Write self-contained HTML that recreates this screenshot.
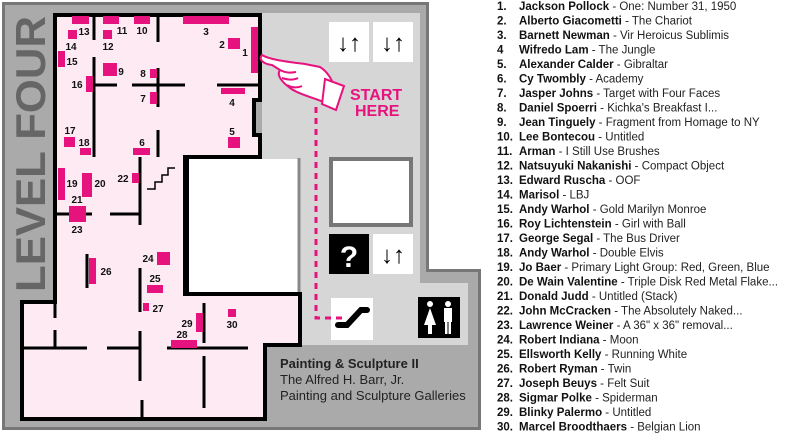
<!DOCTYPE html>
<html><head><meta charset="utf-8"><style>
html,body{margin:0;padding:0;background:#fff;width:800px;height:439px;overflow:hidden}
svg{display:block}
.n{font:bold 10px "Liberation Sans",sans-serif;fill:#111}
.lg{font:11.5px "Liberation Sans",sans-serif;fill:#222}
.lg tspan.b{font-weight:bold;fill:#111}
</style></head><body>
<svg width="800" height="439" viewBox="0 0 800 439" xmlns="http://www.w3.org/2000/svg">
<path d="M2,2 H429 V269 H481 V430 H2 Z" fill="#777"/>
<path d="M5,5 H426 V272 H478 V427 H5 Z" fill="#aaa"/>
<path d="M262,13 H420 V283 H468 V345 H262 Z" fill="#d6d6d6"/>
<text transform="translate(45,292) rotate(-90)" textLength="276" lengthAdjust="spacingAndGlyphs" style="font:bold 42px 'Liberation Sans',sans-serif;fill:#666">LEVEL FOUR</text>
<path d="M55,15 H260 V100 H254 V135 H260 V157 H185 V294 H300 V345 H265 V419 H22 V302 H55 Z" fill="#fdeaf2"/>
<rect x="187" y="159" width="112" height="134" fill="#fff"/>
<g fill="none" stroke="#000" stroke-width="4">
<path d="M55,15 H260 V100 H254 V135 H260 V157 H185 V294 H300 V345 H265 V419 H22 V302 H55 Z" fill="none"/>
<path d="M187,157 V294"/>
</g>
<path d="M299,158 V292" stroke="#888" stroke-width="3"/>
<g stroke="#000" stroke-width="3" fill="none">
<path d="M94,15 V40"/><path d="M158,15 V42"/>
<path d="M95,85 H117"/><path d="M132,85 H185"/><path d="M217,85 H260"/>
<path d="M94,57 V157"/>
<path d="M158,68 V107"/><path d="M158,130 V157"/>
<path d="M140,157 V225"/>
<path d="M57,214 H92"/><path d="M110,214 H140"/>
<path d="M140,268 V312"/>
<path d="M55,302 V318"/><path d="M55,330 V348"/>
<path d="M22,348 H87"/><path d="M107,348 H140"/>
<path d="M140,331 V381"/>
<path d="M167,348 H248"/>
<path d="M204,303 V343"/><path d="M204,356 V408"/>
<path d="M142,400 V419"/>
<path d="M87,254 V288"/>
</g>
<rect x="66" y="154" width="13" height="5" fill="#fdeaf2"/>
<path d="M147,189 H155 V182 H162 V175 H168 V168 H175" stroke="#000" stroke-width="1.5" fill="none"/>
<g fill="#e6137f">
<rect x="72" y="16" width="17" height="8"/><rect x="103" y="16" width="16" height="8"/>
<rect x="134" y="16" width="16" height="8"/><rect x="183" y="16" width="46" height="8"/>
<rect x="251" y="27" width="7" height="46"/><rect x="228" y="38" width="12" height="11"/>
<rect x="103" y="30" width="9" height="9"/><rect x="68" y="30" width="9" height="9"/>
<rect x="58" y="51" width="7" height="16"/><rect x="103" y="63" width="14" height="13"/>
<rect x="150" y="69" width="7" height="9"/><rect x="150" y="92" width="7" height="12"/>
<rect x="86" y="76" width="7" height="16"/><rect x="221" y="88" width="24" height="6"/>
<rect x="228" y="137" width="12" height="11"/><rect x="64" y="137" width="11" height="10"/>
<rect x="80" y="148" width="11" height="7"/><rect x="133" y="148" width="17" height="7"/>
<rect x="58" y="168" width="7" height="32"/><rect x="82" y="173" width="10" height="24"/>
<rect x="132" y="173" width="7" height="10"/><rect x="69" y="206" width="17" height="16"/>
<rect x="157" y="252" width="13" height="13"/><rect x="89" y="258" width="7" height="26"/>
<rect x="147" y="285" width="16" height="8"/><rect x="143" y="303" width="6" height="8"/>
<rect x="196" y="313" width="7" height="19"/><rect x="171" y="340" width="26" height="8"/>
<rect x="228" y="309" width="8" height="8"/>
</g>
<g class="n" text-anchor="middle">
<text x="84" y="35">13</text><text x="122" y="34">11</text><text x="142" y="34">10</text><text x="206" y="35">3</text>
<text x="222" y="48">2</text><text x="245" y="56">1</text><text x="108" y="50">12</text><text x="71" y="50">14</text>
<text x="72" y="65">15</text><text x="121" y="75">9</text><text x="143" y="77">8</text><text x="143" y="102">7</text>
<text x="77" y="88">16</text><text x="232" y="106">4</text><text x="232" y="135">5</text><text x="70" y="134">17</text>
<text x="84" y="146">18</text><text x="142" y="146">6</text><text x="72" y="187">19</text><text x="100" y="187">20</text>
<text x="123" y="182">22</text><text x="77" y="203">21</text><text x="77" y="233">23</text><text x="148" y="262">24</text>
<text x="106" y="275">26</text><text x="155" y="282">25</text><text x="158" y="312">27</text><text x="187" y="327">29</text>
<text x="182" y="338">28</text><text x="232" y="328">30</text>
</g>
<g font-family="Liberation Sans,sans-serif">
<rect x="329" y="22" width="40" height="40" fill="#fff"/><rect x="373" y="22" width="40" height="40" fill="#fff"/>
<text x="349" y="51" text-anchor="middle" font-size="24">↓↑</text><text x="393" y="51" text-anchor="middle" font-size="24">↓↑</text>
<rect x="331" y="159" width="80" height="66" fill="#fff" stroke="#777" stroke-width="4"/>
<rect x="329" y="234" width="40" height="40" fill="#000"/><text x="349" y="267" text-anchor="middle" font-size="30" font-weight="bold" fill="#fff">?</text>
<rect x="373" y="234" width="40" height="40" fill="#fff"/><text x="393" y="263" text-anchor="middle" font-size="24">↓↑</text>
<rect x="331" y="298" width="42" height="42" fill="#fff"/>
<path d="M338,325 H347 L361,310 H367" stroke="#000" stroke-width="6" stroke-linecap="round" fill="none"/>
<rect x="418" y="297" width="42" height="41" fill="#000"/>
<g fill="#fff"><circle cx="430" cy="304" r="3"/><path d="M430,308 L424,325 H428 V334 H432 V325 H436 Z"/>
<circle cx="448" cy="304" r="3"/><rect x="444" y="308" width="8" height="14"/><rect x="445" y="320" width="2.5" height="14"/><rect x="448.5" y="320" width="2.5" height="14"/></g>
<text x="350" y="100" font-size="16" font-weight="bold" fill="#e6137f">START</text>
<text x="355" y="116" font-size="16" font-weight="bold" fill="#e6137f">HERE</text>
<text x="280" y="368" font-size="13" font-weight="bold" fill="#222">Painting &amp; Sculpture II</text>
<text x="280" y="384" font-size="13" fill="#222">The Alfred H. Barr, Jr.</text>
<text x="280" y="400" font-size="13" fill="#222">Painting and Sculpture Galleries</text>
</g>
<path d="M316,107 V318 H345" stroke="#e6137f" stroke-width="3" stroke-dasharray="6,5" fill="none"/>
<g stroke="#e6137f" stroke-width="2" fill="#fff">
<path d="M262,55 C270,60 290,62 305,64 L320,67 C328,72 332,80 335,88 L326,103 C315,98 300,95 290,88 C282,82 276,75 280,70 L272,65 C264,64 258,60 262,55 Z"/>
<path d="M325,79 L344,86 L336,110 L322,104 Z"/>
<path d="M280,70 C286,73 290,73 296,72 M282,78 C288,80 294,80 298,78 M287,85 C292,88 298,88 302,86"/>
</g>
<g class="lg">
<text y="10"><tspan x="497" class="b">1.</tspan><tspan x="519" class="b">Jackson Pollock</tspan> - One: Number 31, 1950</text>
<text y="24.5"><tspan x="497" class="b">2.</tspan><tspan x="519" class="b">Alberto Giacometti</tspan> - The Chariot</text>
<text y="39"><tspan x="497" class="b">3.</tspan><tspan x="519" class="b">Barnett Newman</tspan> - Vir Heroicus Sublimis</text>
<text y="53.5"><tspan x="497" class="b">4</tspan><tspan x="519" class="b">Wifredo Lam</tspan> - The Jungle</text>
<text y="68"><tspan x="497" class="b">5.</tspan><tspan x="519" class="b">Alexander Calder</tspan> - Gibraltar</text>
<text y="82.5"><tspan x="497" class="b">6.</tspan><tspan x="519" class="b">Cy Twombly</tspan> - Academy</text>
<text y="97"><tspan x="497" class="b">7.</tspan><tspan x="519" class="b">Jasper Johns</tspan> - Target with Four Faces</text>
<text y="111.5"><tspan x="497" class="b">8.</tspan><tspan x="519" class="b">Daniel Spoerri</tspan> - Kichka's Breakfast I...</text>
<text y="126"><tspan x="497" class="b">9.</tspan><tspan x="519" class="b">Jean Tinguely</tspan> - Fragment from Homage to NY</text>
<text y="140.5"><tspan x="497" class="b">10.</tspan><tspan x="519" class="b">Lee Bontecou</tspan> - Untitled</text>
<text y="155"><tspan x="497" class="b">11.</tspan><tspan x="519" class="b">Arman</tspan> - I Still Use Brushes</text>
<text y="169.5"><tspan x="497" class="b">12.</tspan><tspan x="519" class="b">Natsuyuki Nakanishi</tspan> - Compact Object</text>
<text y="184"><tspan x="497" class="b">13.</tspan><tspan x="519" class="b">Edward Ruscha</tspan> - OOF</text>
<text y="198.5"><tspan x="497" class="b">14.</tspan><tspan x="519" class="b">Marisol</tspan> - LBJ</text>
<text y="213"><tspan x="497" class="b">15.</tspan><tspan x="519" class="b">Andy Warhol</tspan> - Gold Marilyn Monroe</text>
<text y="227.5"><tspan x="497" class="b">16.</tspan><tspan x="519" class="b">Roy Lichtenstein</tspan> - Girl with Ball</text>
<text y="242"><tspan x="497" class="b">17.</tspan><tspan x="519" class="b">George Segal</tspan> - The Bus Driver</text>
<text y="256.5"><tspan x="497" class="b">18.</tspan><tspan x="519" class="b">Andy Warhol</tspan> - Double Elvis</text>
<text y="271"><tspan x="497" class="b">19.</tspan><tspan x="519" class="b">Jo Baer</tspan> - Primary Light Group: Red, Green, Blue</text>
<text y="285.5"><tspan x="497" class="b">20.</tspan><tspan x="519" class="b">De Wain Valentine</tspan> - Triple Disk Red Metal Flake...</text>
<text y="300"><tspan x="497" class="b">21.</tspan><tspan x="519" class="b">Donald Judd</tspan> -  Untitled (Stack)</text>
<text y="314.5"><tspan x="497" class="b">22.</tspan><tspan x="519" class="b">John McCracken</tspan> - The Absolutely Naked...</text>
<text y="329"><tspan x="497" class="b">23.</tspan><tspan x="519" class="b">Lawrence Weiner</tspan> - A 36" x 36" removal...</text>
<text y="343.5"><tspan x="497" class="b">24.</tspan><tspan x="519" class="b">Robert Indiana</tspan> - Moon</text>
<text y="358"><tspan x="497" class="b">25.</tspan><tspan x="519" class="b">Ellsworth Kelly</tspan> - Running White</text>
<text y="372.5"><tspan x="497" class="b">26.</tspan><tspan x="519" class="b">Robert Ryman</tspan> - Twin</text>
<text y="387"><tspan x="497" class="b">27.</tspan><tspan x="519" class="b">Joseph Beuys</tspan> - Felt Suit</text>
<text y="401.5"><tspan x="497" class="b">28.</tspan><tspan x="519" class="b">Sigmar Polke</tspan> - Spiderman</text>
<text y="416"><tspan x="497" class="b">29.</tspan><tspan x="519" class="b">Blinky Palermo</tspan> - Untitled</text>
<text y="430.5"><tspan x="497" class="b">30.</tspan><tspan x="519" class="b">Marcel Broodthaers</tspan> - Belgian Lion</text>
</g>
</svg>
</body></html>
